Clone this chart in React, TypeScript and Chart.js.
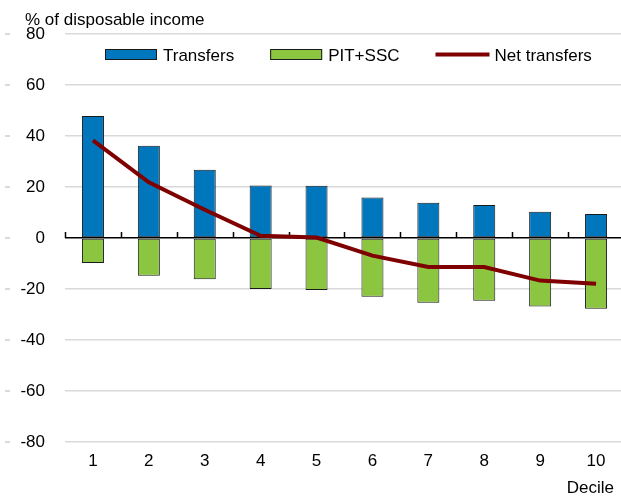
import React, { useEffect, useRef } from "react";
import { Chart, registerables } from "chart.js";

Chart.register(...registerables);

const deciles = ["1", "2", "3", "4", "5", "6", "7", "8", "9", "10"];
const transfers = [47.8, 36.2, 26.8, 20.6, 20.5, 15.9, 13.8, 12.9, 10.3, 9.4];
const pitSsc = [-9.8, -14.8, -16.2, -20.0, -20.4, -23.0, -25.4, -24.6, -26.9, -27.7];
const netTransfers = [38.3, 21.8, 11.1, 0.9, 0.2, -6.9, -11.4, -11.4, -16.7, -17.9];
const yTitle = "% of disposable income";
const xTitle = "Decile";
const seriesNames = ["Transfers", "PIT+SSC", "Net transfers"];

const FONT = "'Liberation Sans', Arial, sans-serif";
const BLUE = "#0077BD";
const GREEN = "#8CC641";
const RED = "#7F0000";

const decor = {
  id: "decor",
  beforeDatasetsDraw(chart: any) {
    const { ctx, scales } = chart;
    const x = scales.x;
    const y = scales.y;
    const y0 = y.getPixelForValue(0);
    const catW = x.getPixelForValue(1) - x.getPixelForValue(0);
    const first = x.getPixelForValue(0) - catW / 2;
    ctx.save();
    ctx.strokeStyle = "#000";
    ctx.lineWidth = 1.5;
    ctx.beginPath();
    for (let i = 0; i <= deciles.length; i++) {
      const px = Math.round(first + i * catW) + 0.5;
      ctx.moveTo(px, y0);
      ctx.lineTo(px, y0 - 6);
    }
    ctx.stroke();
    ctx.strokeStyle = "#cfcfcf";
    ctx.lineWidth = 1.5;
    ctx.beginPath();
    y.ticks.forEach((t: any) => {
      const py = y.getPixelForValue(t.value);
      ctx.moveTo(5, py);
      ctx.lineTo(10, py);
    });
    ctx.stroke();
    ctx.restore();
  },
  afterDraw(chart: any) {
    const { ctx, chartArea } = chart;
    ctx.save();
    ctx.font = `17px ${FONT}`;
    ctx.fillStyle = "#000";
    ctx.textBaseline = "alphabetic";
    ctx.textAlign = "left";
    ctx.fillText(yTitle, 25, 25);
    ctx.textAlign = "right";
    ctx.fillText(xTitle, chartArea.right - 10, 493);

    ctx.textAlign = "left";
    let cx = chartArea.left + 40;
    const cy = 54.5;
    const boxW = 52;
    const boxH = 11;
    const gap = 36;
    ctx.fillStyle = BLUE;
    ctx.fillRect(cx, cy - boxH / 2, boxW, boxH);
    ctx.strokeStyle = "#1a1a1a";
    ctx.lineWidth = 1;
    ctx.strokeRect(cx + 0.5, cy - boxH / 2 + 0.5, boxW - 1, boxH - 1);
    cx += boxW + 6;
    ctx.fillStyle = "#000";
    ctx.fillText(seriesNames[0], cx, cy + 6.5);
    cx += ctx.measureText(seriesNames[0]).width + gap;
    ctx.fillStyle = GREEN;
    ctx.fillRect(cx, cy - boxH / 2, boxW, boxH);
    ctx.strokeRect(cx + 0.5, cy - boxH / 2 + 0.5, boxW - 1, boxH - 1);
    cx += boxW + 6;
    ctx.fillStyle = "#000";
    ctx.fillText(seriesNames[1], cx, cy + 6.5);
    cx += ctx.measureText(seriesNames[1]).width + gap;
    ctx.strokeStyle = RED;
    ctx.lineWidth = 4;
    ctx.beginPath();
    ctx.moveTo(cx, cy);
    ctx.lineTo(cx + 54, cy);
    ctx.stroke();
    cx += 54 + 5;
    ctx.fillStyle = "#000";
    ctx.fillText(seriesNames[2], cx, cy + 6.5);
    ctx.restore();
  },
};

export default function App() {
  const ref = useRef<HTMLCanvasElement>(null);
  useEffect(() => {
    if (!ref.current) return;
    const chart = new Chart(ref.current, {
      type: "bar",
      data: {
        labels: deciles,
        datasets: [
          {
            type: "line",
            label: seriesNames[2],
            data: netTransfers,
            borderColor: RED,
            backgroundColor: RED,
            borderWidth: 4,
            pointRadius: 0,
            tension: 0,
            stack: "net",
            order: 0,
          } as any,
          {
            label: seriesNames[0],
            data: transfers,
            backgroundColor: BLUE,
            borderColor: "#1a1a1a",
            borderWidth: 1,
            borderSkipped: false,
            stack: "bars",
            order: 1,
          },
          {
            label: seriesNames[1],
            data: pitSsc,
            backgroundColor: GREEN,
            borderColor: "#1a1a1a",
            borderWidth: 1,
            borderSkipped: false,
            stack: "bars",
            order: 1,
          },
        ],
      },
      options: {
        responsive: false,
        animation: false,
        layout: { padding: { top: 34, left: 0, right: 0, bottom: 0 } },
        datasets: {
          bar: { barPercentage: 0.394, categoryPercentage: 1 },
        },
        plugins: {
          legend: { display: false },
          title: { display: false },
          tooltip: { enabled: false },
        },
        scales: {
          x: {
            stacked: true,
            grid: { display: false },
            border: { display: false },
            ticks: {
              color: "#000",
              font: { family: FONT, size: 17 },
              padding: 1,
              maxRotation: 0,
            },
            afterFit: (s: any) => {
              s.height = 61;
            },
          },
          y: {
            stacked: true,
            min: -80,
            max: 80,
            ticks: {
              stepSize: 20,
              color: "#000",
              font: { family: FONT, size: 17 },
              padding: 20,
            },
            grid: {
              drawTicks: false,
              color: (c: any) => (c.tick && c.tick.value === 0 ? "#000" : "#d9d9d9"),
              lineWidth: 1.5,
            },
            border: { display: false },
            afterFit: (s: any) => {
              s.width = 65;
            },
          },
        },
      },
      plugins: [decor],
    });
    return () => chart.destroy();
  }, []);
  return (
    <div
      style={{
        position: "fixed",
        left: 0,
        top: 0,
        width: 621,
        height: 503,
        overflow: "hidden",
        background: "#fff",
      }}
    >
      <canvas ref={ref} width={624} height={503} style={{ display: "block" }} />
    </div>
  );
}
